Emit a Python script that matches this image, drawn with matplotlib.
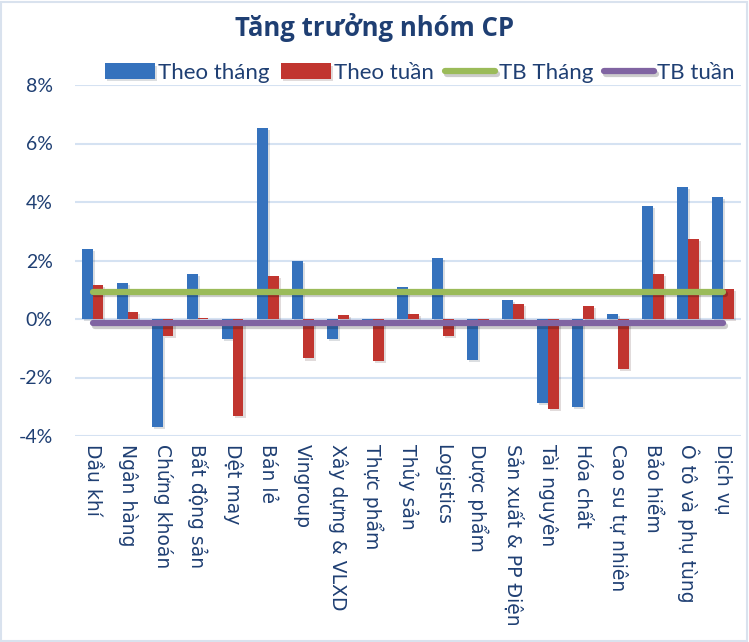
import matplotlib
matplotlib.use("Agg")
import matplotlib.pyplot as plt
from matplotlib.patches import Rectangle
import matplotlib.patheffects as pe
import numpy as np

categories = ["Dầu khí", "Ngân hàng", "Chứng khoán", "Bất động sản", "Dệt may", "Bán lẻ",
              "Vingroup", "Xây dựng & VLXD", "Thực phẩm", "Thủy sản", "Logistics",
              "Dược phẩm", "Sản xuất & PP Điện", "Tài nguyên", "Hóa chất",
              "Cao su tự nhiên", "Bảo hiểm", "Ô tô và phụ tùng", "Dịch vụ"]
theo_thang = [2.38, 1.22, -3.70, 1.53, -0.67, 6.52, 1.97, -0.67, -0.05, 1.09, 2.10,
              -1.39, 0.65, -2.87, -3.01, 0.17, 3.87, 4.52, 4.18]
theo_tuan = [1.15, 0.24, -0.58, 0.04, -3.32, 1.46, -1.35, 0.14, -1.45, 0.17, -0.58,
             -0.05, 0.51, -3.06, 0.44, -1.70, 1.53, 2.75, 1.02]
tb_thang = 0.94
tb_tuan = -0.15
yticks = [-4, -2, 0, 2, 4, 6, 8]

text_col = "#1F3F73"
plt.rcParams['font.family'] = ["Lato", "DejaVu Sans"]

fig = plt.figure(figsize=(7.49, 6.42), dpi=100)
ax = fig.add_axes([75/749, 1-436/642, (740.5-75)/749, (436-85)/642])

x = np.arange(len(categories))
w = 0.31
shadow = [pe.SimplePatchShadow(offset=(1.5, -1.5), alpha=0.15), pe.Normal()]
b1 = ax.bar(x - w/2, theo_thang, width=w, color="#3572BD", label="Theo tháng", zorder=3)
b2 = ax.bar(x + w/2, theo_tuan, width=w, color="#C1352F", label="Theo tuần", zorder=3)
for b in list(b1) + list(b2):
    b.set_path_effects(shadow)

lshadow = [pe.SimpleLineShadow(offset=(1.5, -2), alpha=0.2), pe.Normal()]
l1, = ax.plot(x, [tb_thang]*len(x), color="#9BBB59", lw=4.5, solid_capstyle="round",
              label="TB Tháng", zorder=4, path_effects=lshadow)
l2, = ax.plot(x, [tb_tuan]*len(x), color="#8064A2", lw=4.5, solid_capstyle="round",
              label="TB tuần", zorder=4, path_effects=lshadow)

ax.set_xlim(-0.5, len(categories) - 0.5)
ax.set_ylim(-4, 8)
ax.set_yticks(yticks)
ax.set_yticklabels([f"{v}%" for v in yticks], fontsize=14, color=text_col)
ax.grid(axis="y", color="#D5E2F2", lw=1.5, zorder=0)
ax.set_axisbelow(True)
for s in ax.spines.values():
    s.set_visible(False)
ax.tick_params(axis="y", length=0, pad=16)
ax.tick_params(axis="x", length=0, pad=6)
ax.set_xticks(x)
ax.set_xticklabels(categories, rotation=-90, fontsize=13.5, color=text_col,
                   family=["DejaVu Sans"], va="top", ha="center")

fig.text(0.5, 1-27/642, "Tăng trưởng nhóm CP", ha="center", va="center",
         fontsize=18.5, fontweight="bold", color=text_col, family=["Open Sans", "DejaVu Sans"])

leg = fig.legend(handles=[b1, b2, l1, l2], loc="center", bbox_to_anchor=(420/749, 1-73/642),
                 ncol=4, frameon=False, fontsize=16, handlelength=2.25, handleheight=0.7,
                 columnspacing=0.5, handletextpad=0.15, borderaxespad=0)
for t in leg.get_texts():
    t.set_color(text_col)

fig.patches.append(Rectangle((0.002, 0.002), 0.995, 0.995, transform=fig.transFigure,
                             fill=False, edgecolor="#D9E2EE", lw=1.5))

fig.savefig("out.png", dpi=100, facecolor="white")
